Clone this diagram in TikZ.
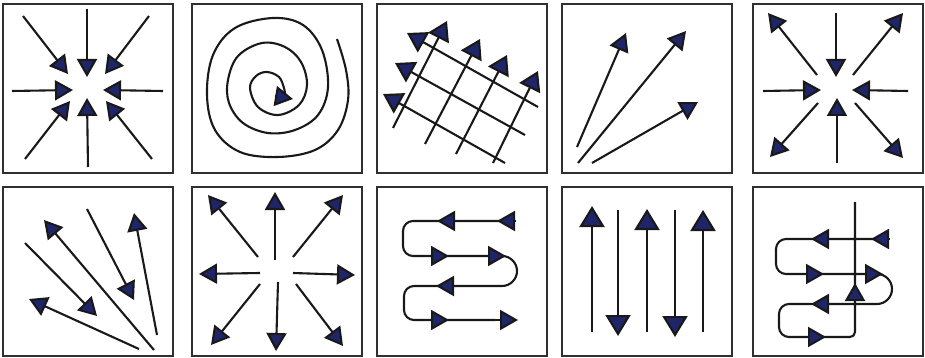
\documentclass[tikz,border=0pt]{standalone}
\usetikzlibrary{arrows.meta}
\definecolor{navy}{RGB}{30,38,105}
\definecolor{ink}{RGB}{25,25,25}
\begin{document}
\begin{tikzpicture}[x=1pt,y=-1pt,
  panel/.style={draw=ink!90,line width=2.3pt},
  ln/.style={draw=ink,line width=2.1pt},
  arr/.style={ln,-{Triangle[length=18pt,width=20pt,fill=navy]}},
  bigarr/.style={ln,-{Triangle[length=21pt,width=25pt,fill=navy]}},
  midarr/.style={ln,-{Triangle[length=19pt,width=23pt,fill=navy]}}]
\useasboundingbox (0,0) rectangle (925,358);
% boxes
\foreach \a/\b in {3/173,192/362,377/547,562/732,753/923}{
  \draw[panel] (\a,4) rectangle (\b,173);
  \draw[panel] (\a,187) rectangle (\b,356);
}
% ---------- panel 1: converging
\draw[arr] (87,9) -- (87,77);
\draw[arr] (23,16) -- (68,74);
\draw[arr] (149,16) -- (105,74);
\draw[arr] (12,91) -- (73,90);
\draw[arr] (163,91) -- (103,90);
\draw[arr] (25,159) -- (70,101);
\draw[arr] (88,167) -- (87,98);
\draw[arr] (152,159) -- (106,101);
% ---------- panel 2: spiral
\draw[ln] plot[smooth,tension=0.6] coordinates {(337,39) (346,70) (348,100) (338,130) (315,150) (278,157) (240,152) (215,130) (207,95) (213,55) (235,28) (273,18) (303,25) (322,50) (328,87) (318,115) (295,130) (268,133) (243,123) (229,103) (228,80) (238,56) (262,43) (285,47) (301,62) (307,85) (299,105) (278,115) (258,107) (250,88) (256,76) (267,72) (279,77) (284,88) (285,94)};
\draw[arr] (275,96) -- (293,99);
% ---------- panel 3: grid
\draw[midarr] (393,128) -- (447,21);
\draw[midarr] (425,144) -- (480,39);
\draw[midarr] (456,154) -- (507,55);
\draw[midarr] (493,163) -- (538,71);
\draw[midarr] (538,107) -- (407,33);
\draw[midarr] (525,135) -- (395,63);
\draw[midarr] (505,163) -- (383,94);
% ---------- panel 4: fan
\draw[arr] (577,147) -- (626,33);
\draw[arr] (578,163) -- (686,31);
\draw[arr] (592,163) -- (698,102);
% ---------- panel 5: mixed
\draw[arr] (836,13) -- (836,77);
\draw[arr] (763,91) -- (821,90);
\draw[arr] (908,91) -- (852,90);
\draw[arr] (837,163) -- (837,98);
\draw[arr] (817,75) -- (768,13);
\draw[arr] (853,75) -- (903,13);
\draw[arr] (818,103) -- (770,157);
\draw[arr] (855,103) -- (903,158);
% ---------- panel 6: fan from bottom right
\draw[arr] (139,349) -- (29,299);
\draw[arr] (154,350) -- (44,220);
\draw[arr] (25,243) -- (97,316);
\draw[arr] (87,209) -- (134,300);
\draw[arr] (157,335) -- (134,213);
% ---------- panel 7: diverging
\draw[arr] (275,260) -- (275,192);
\draw[arr] (278,282) -- (276,351);
\draw[arr] (260,273) -- (199,274);
\draw[arr] (293,273) -- (355,275);
\draw[arr] (258,257) -- (208,195);
\draw[arr] (293,257) -- (343,195);
\draw[arr] (260,284) -- (211,345);
\draw[arr] (296,284) -- (343,346);
% ---------- panel 8: serpentine
\draw[ln] (513,221) [rounded corners=10pt] -- (403,221) -- (403,256) [rounded corners=15pt] -- (517,256) -- (517,286) [rounded corners=10pt] -- (404,286) -- (404,320) [sharp corners] -- (495,320);
\draw[arr] (495,320) -- (518,320);
\draw[arr] (516,221) -- (497,221);
\draw[arr] (458,221) -- (437,221);
\draw[arr] (428,256) -- (449,256);
\draw[arr] (485,256) -- (506,256);
\draw[arr] (457,286) -- (436,286);
\draw[arr] (428,320) -- (449,320);
% ---------- panel 9: parallel
\draw[bigarr] (592,332) -- (592,206);
\draw[bigarr] (647,332) -- (647,209);
\draw[bigarr] (703,332) -- (703,210);
\draw[bigarr] (618,210) -- (618,336);
\draw[bigarr] (675,210) -- (675,337);
% ---------- panel 10: serpentine with vertical
\draw[ln] (887,239) [rounded corners=10pt] -- (776,239) -- (776,274) [rounded corners=15pt] -- (892,274) -- (892,304) [rounded corners=10pt] -- (779,304) -- (779,337) [rounded corners=5pt] -- (855,337) [sharp corners] -- (855,202);
\draw[arr] (890,239) -- (871,239);
\draw[arr] (832,239) -- (811,239);
\draw[arr] (803,274) -- (824,274);
\draw[arr] (862,274) -- (883,274);
\draw[arr] (832,304) -- (811,304);
\draw[arr] (805,337) -- (826,337);
\draw[arr] (855,303) -- (855,283);
\end{tikzpicture}
\end{document}
